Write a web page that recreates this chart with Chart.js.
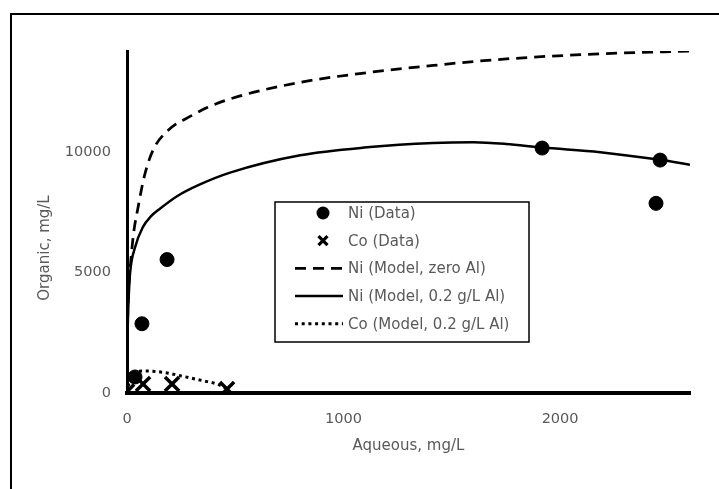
<!DOCTYPE html>
<html>
<head>
<meta charset="utf-8">
<script src="https://cdn.jsdelivr.net/npm/chart.js@4.4.1/dist/chart.umd.min.js"></script>
<style>
  html, body { margin: 0; padding: 0; background: #fff; overflow: hidden; }
  #frame { position: absolute; left: 10px; top: 13px; width: 800px; height: 600px; border: 2px solid #000; }
  #chart { position: absolute; left: 0; top: 0; }
</style>
</head>
<body>
<div id="frame"></div>
<canvas id="chart" width="719" height="489"></canvas>
<script>
// axis ticks
var xTicks = [0, 1000, 2000];
var yTicks = [0, 5000, 10000];

// measured points
var niDataX = [37, 69, 185, 1917, 2443, 2462];
var niDataY = [665, 2875, 5540, 10170, 7875, 9670];
var coDataX = [0, 74, 208, 462];
var coDataY = [60, 375, 375, 165];

// model curves
var niZeroX = [0, 2, 6, 14, 30, 51, 80, 120, 189, 305, 370, 490, 800, 1108, 1414, 1690, 2100, 2600];
var niZeroY = [0, 2500, 4000, 5100, 6600, 7700, 9000, 10080, 10900, 11550, 11850, 12250, 12900, 13300, 13600, 13830, 14050, 14200];
var niAlX = [0, 3, 8, 14, 37, 74, 110, 152, 231, 337, 476, 800, 1108, 1414, 1600, 1750, 1917, 2185, 2462, 2600];
var niAlY = [0, 2500, 4000, 4960, 6040, 6900, 7330, 7650, 8170, 8660, 9150, 9870, 10200, 10380, 10410, 10340, 10190, 10000, 9680, 9480];
var coAlX = [0, 10, 25, 74, 166, 259, 351, 416, 462];
var coAlY = [0, 450, 750, 915, 860, 690, 510, 370, 165];

function pts(xs, ys) {
  return xs.map(function (x, i) { return { x: x, y: ys[i] }; });
}

var FONT = 'DejaVu Sans';
var GREY = '#595959';

// legend box + y title drawn on canvas
var boxLegend = {
  id: 'boxLegend',
  afterDraw: function (chart) {
    var ctx = chart.ctx;
    ctx.save();
    // y axis title
    ctx.translate(45, 248);
    ctx.rotate(-Math.PI / 2);
    ctx.fillStyle = GREY;
    ctx.font = '15px "' + FONT + '"';
    ctx.textAlign = 'center';
    ctx.textBaseline = 'middle';
    ctx.fillText('Organic, mg/L', 0, 0);
    ctx.restore();

    ctx.save();
    ctx.fillStyle = '#fff';
    ctx.fillRect(275, 202, 254, 140);
    ctx.strokeStyle = '#000';
    ctx.lineWidth = 1.5;
    ctx.strokeRect(275, 202, 254, 140);
    ctx.font = '15px "' + FONT + '"';
    ctx.textAlign = 'left';
    ctx.textBaseline = 'middle';
    chart.data.datasets.forEach(function (ds, i) {
      var y = 213 + i * 27.7;
      ctx.strokeStyle = '#000';
      ctx.fillStyle = '#000';
      if (ds.showLine === false) {
        if (ds.pointStyle === 'circle') {
          ctx.beginPath();
          ctx.arc(323, y, 6.5, 0, Math.PI * 2);
          ctx.fill();
        } else {
          ctx.lineWidth = 3.2;
          ctx.beginPath();
          ctx.moveTo(318.5, y - 4.5); ctx.lineTo(327.5, y + 4.5);
          ctx.moveTo(327.5, y - 4.5); ctx.lineTo(318.5, y + 4.5);
          ctx.stroke();
        }
      } else {
        ctx.lineWidth = ds.borderWidth;
        ctx.setLineDash(ds.borderDash || []);
        ctx.beginPath();
        ctx.moveTo(295, y);
        ctx.lineTo(343, y);
        ctx.stroke();
        ctx.setLineDash([]);
      }
      ctx.fillStyle = GREY;
      ctx.fillText(ds.label, 348, y + 1);
    });
    ctx.restore();
  }
};

new Chart(document.getElementById('chart').getContext('2d'), {
  type: 'scatter',
  data: {
    datasets: [
      {
        label: 'Ni (Data)',
        data: pts(niDataX, niDataY),
        showLine: false,
        pointStyle: 'circle',
        pointRadius: 7,
        borderWidth: 1,
        backgroundColor: '#000',
        borderColor: '#000'
      },
      {
        label: 'Co (Data)',
        data: pts(coDataX, coDataY),
        showLine: false,
        pointStyle: 'crossRot',
        pointRadius: 10,
        borderWidth: 3.5,
        backgroundColor: '#000',
        borderColor: '#000'
      },
      {
        label: 'Ni (Model, zero Al)',
        data: pts(niZeroX, niZeroY),
        showLine: true,
        borderColor: '#000',
        borderWidth: 2.75,
        borderDash: [11, 7],
        pointRadius: 0,
        cubicInterpolationMode: 'monotone'
      },
      {
        label: 'Ni (Model, 0.2 g/L Al)',
        data: pts(niAlX, niAlY),
        showLine: true,
        borderColor: '#000',
        borderWidth: 2.5,
        pointRadius: 0,
        cubicInterpolationMode: 'monotone'
      },
      {
        label: 'Co (Model, 0.2 g/L Al)',
        data: pts(coAlX, coAlY),
        showLine: true,
        borderColor: '#000',
        borderWidth: 3,
        borderDash: [3, 3.7],
        pointRadius: 0,
        cubicInterpolationMode: 'monotone'
      }
    ]
  },
  options: {
    responsive: false,
    animation: false,
    events: [],
    layout: { padding: { left: 0, right: 29, top: 51, bottom: 0 } },
    plugins: { legend: { display: false }, tooltip: { enabled: false } },
    scales: {
      x: {
        type: 'linear',
        min: 0,
        max: 2600,
        grid: { display: false, drawTicks: false },
        border: { display: true, color: '#000', width: 4 },
        afterBuildTicks: function (s) { s.ticks = xTicks.map(function (v) { return { value: v }; }); },
        afterFit: function (s) { s.height = 96; },
        ticks: { color: GREY, padding: 18, font: { family: FONT, size: 14.5 }, maxRotation: 0,
                 callback: function (v) { return String(v); } },
        title: { display: true, text: 'Aqueous, mg/L', color: GREY, font: { family: FONT, size: 15 }, padding: { top: 0, bottom: 34 } }
      },
      y: {
        type: 'linear',
        min: 0,
        max: 14200,
        grid: { display: false, drawTicks: false },
        border: { display: true, color: '#000', width: 3 },
        afterBuildTicks: function (s) { s.ticks = yTicks.map(function (v) { return { value: v }; }); },
        afterFit: function (s) { s.width = 127; },
        ticks: { color: GREY, padding: 16, font: { family: FONT, size: 14.5 },
                 callback: function (v) { return String(v); } }
      }
    }
  },
  plugins: [boxLegend]
});
</script>
</body>
</html>
